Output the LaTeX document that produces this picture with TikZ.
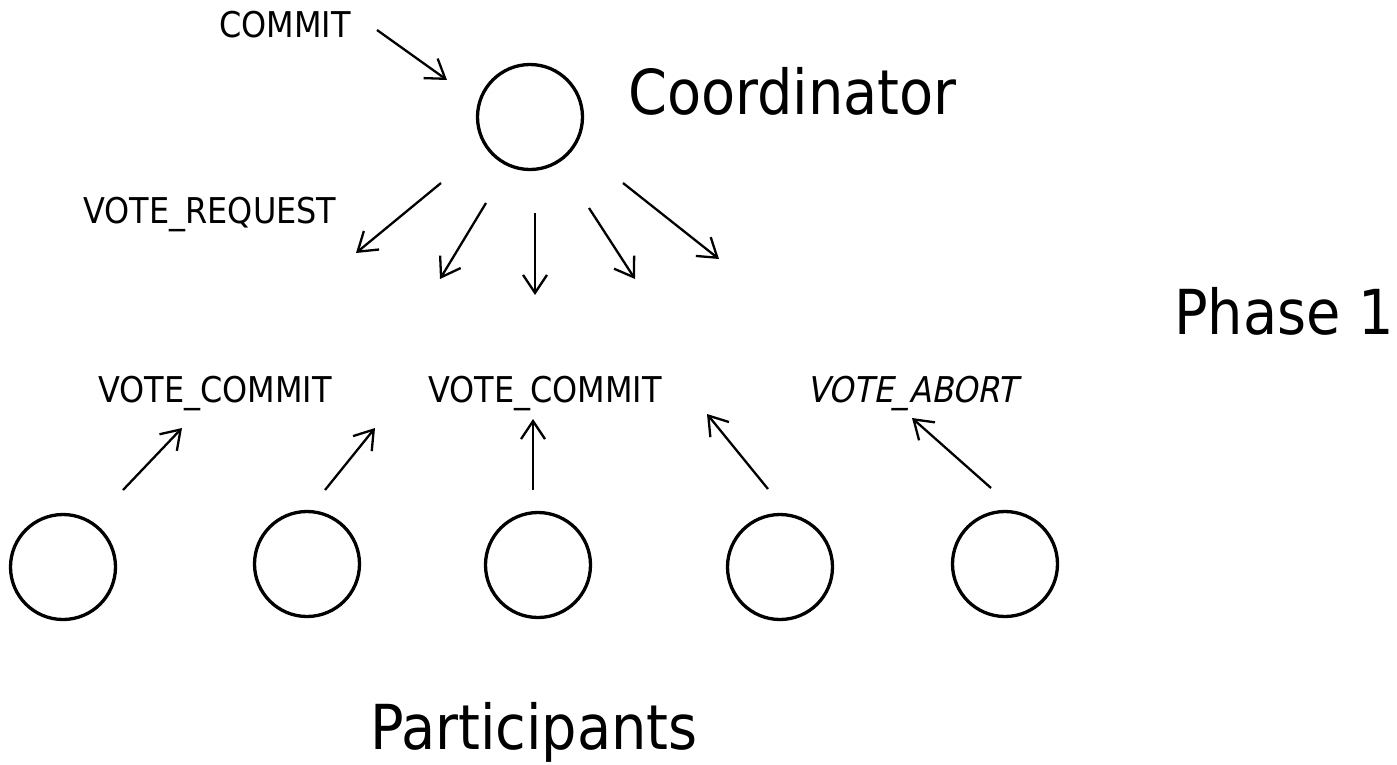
\documentclass[tikz,border=0pt]{standalone}
\usepackage{fontspec}
\setmainfont{DejaVu Sans Condensed}
\usetikzlibrary{arrows.meta}
\begin{document}
\begin{tikzpicture}[x=1pt,y=-1pt,
  proc/.style={circle,draw,line width=3.3pt,minimum size=105pt,inner sep=0pt},
  msg/.style={line width=2.3pt,-{Straight Barb[length=18pt,width=24pt,line width=2.3pt]}},
  small/.style={font=\fontsize{35.5}{40}\selectfont,inner sep=0pt,anchor=base},
  big/.style={font=\fontsize{62}{70}\selectfont,inner sep=0pt,anchor=base}]
\useasboundingbox (0,0) rectangle (1397,764);

% coordinator and participants
\node[proc] (coord) at (530,117) {};
\node[proc] (p1) at (63,567) {};
\node[proc] (p2) at (307,564) {};
\node[proc] (p3) at (538,565) {};
\node[proc] (p4) at (780,567) {};
\node[proc] (p5) at (1005,564) {};

% titles
\node[big,anchor=base west] (tcoord) at (628,114) {Coordinator};
\node[big,anchor=base east] (tphase) at (1394,334) {Phase 1};
\node[big] (tpart) at (534,749) {Participants};

% message labels
\node[small] (lcommit) at (285,37) {COMMIT};
\node[small] (lreq) at (210,223) {VOTE\_REQUEST};
\node[small] (lvc1) at (215,402) {VOTE\_COMMIT};
\node[small] (lvc2) at (545,402) {VOTE\_COMMIT};
\node[small] (lva) at (912,402) {\fontspec{DejaVu Sans Condensed}[FakeSlant=0.2]VOTE\_ABORT};

% arrow end points
\coordinate (c0s) at (377,30);   \coordinate (c0e) at (447,80);
\coordinate (d1s) at (441,183);  \coordinate (d1e) at (356,253);
\coordinate (d2s) at (486,203);  \coordinate (d2e) at (440,279);
\coordinate (d3s) at (535,213);  \coordinate (d3e) at (535,295);
\coordinate (d4s) at (589,208);  \coordinate (d4e) at (635,279);
\coordinate (d5s) at (623,183);  \coordinate (d5e) at (719,259);
\coordinate (u1s) at (123,490);  \coordinate (u1e) at (182,428);
\coordinate (u2s) at (325,490);  \coordinate (u2e) at (375,428);
\coordinate (u3s) at (533,490);  \coordinate (u3e) at (533,419);
\coordinate (u4s) at (768,489);  \coordinate (u4e) at (707,414);
\coordinate (u5s) at (991,488);  \coordinate (u5e) at (912,418);

% commit request
\draw[msg] (c0s) -- (c0e);
% vote requests
\foreach \i in {1,...,5} \draw[msg] (d\i s) -- (d\i e);
% votes
\foreach \i in {1,...,5} \draw[msg] (u\i s) -- (u\i e);
\end{tikzpicture}
\end{document}
